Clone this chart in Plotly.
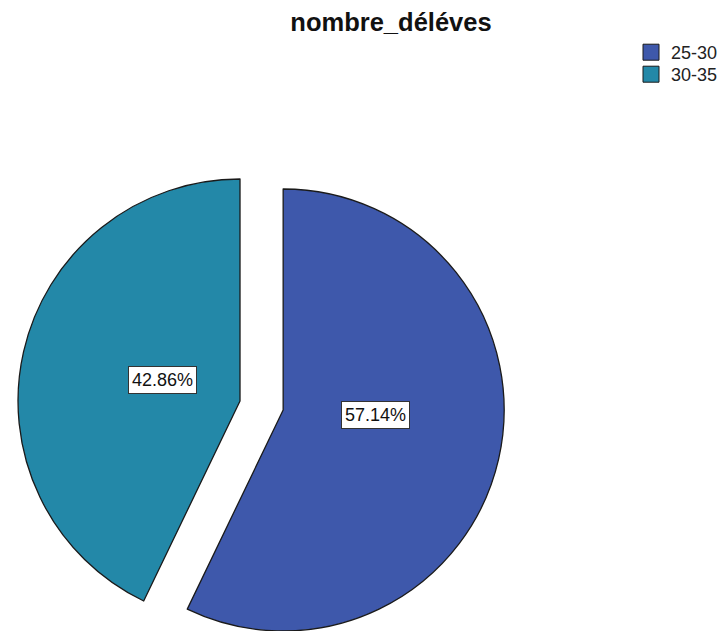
import math
import plotly.graph_objects as go

# --- data -------------------------------------------------------------
categories = ["25-30", "30-35"]
counts = [4, 3]
colors = ["#3E58AB", "#2388A8"]

# --- geometry (px) ----------------------------------------------------
W, H = 723, 631
R = 222                 # pie radius
BASE = (266, 406)       # common pie centre before the slices are exploded
EXPLODE = 22.5          # radial offset applied to every slice
LABEL_PX = [(382, 415), (130, 380)]   # anchor of each percentage box
FONT = "Liberation Sans, Arial, sans-serif"
EDGE = "#1a1a1a"

total = sum(counts)
shares = [c / total for c in counts]
pct_text = [f"{100 * s:.2f}%" for s in shares]

fig = go.Figure()

# one pie per slice so each slice can be pushed out along its own mid-angle
start = 0.0
for i, s in enumerate(shares):
    mid = 2 * math.pi * (start + s / 2)      # clockwise from 12 o'clock
    start += s
    cx = BASE[0] + EXPLODE * math.sin(mid)
    cy = BASE[1] - EXPLODE * math.cos(mid)
    xdom = [max(0.0, (cx - R - 20) / W), min(1.0, (cx + R + 20) / W)]
    ydom = [max(0.0, (H - (cy + R)) / H), min(1.0, (H - (cy - R)) / H)]
    slice_colors = [c if j == i else "rgba(0,0,0,0)" for j, c in enumerate(colors)]
    line_w = [1.3 if j == i else 0 for j in range(len(categories))]
    fig.add_trace(go.Pie(
        labels=categories, values=counts, sort=False,
        direction="clockwise", rotation=0,
        marker=dict(colors=slice_colors, line=dict(color=EDGE, width=line_w)),
        textinfo="none", hoverinfo="label+percent",
        showlegend=False, domain=dict(x=xdom, y=ydom),
    ))

    lx, ly = LABEL_PX[i]
    fig.add_annotation(
        x=lx / W, y=1 - ly / H, xref="paper", yref="paper",
        text=pct_text[i], showarrow=False,
        bgcolor="white", bordercolor="#333333", borderwidth=1, borderpad=3,
        font=dict(family=FONT, size=18, color="#111111"),
    )

# legend entries: square swatches, one legend box per category
legend_y_px = [52.5, 74.5]
for i, (cat, col) in enumerate(zip(categories, colors)):
    key = "legend" if i == 0 else f"legend{i + 1}"
    fig.add_trace(go.Scatter(
        x=[None], y=[None], mode="markers", name=cat,
        marker=dict(symbol="square", size=16, color=col, line=dict(color=EDGE, width=1)),
        legend=key, hoverinfo="skip",
    ))
    fig.update_layout({key: dict(
        x=642 / W, y=1 - legend_y_px[i] / H, xanchor="left", yanchor="middle",
        bgcolor="rgba(0,0,0,0)", borderwidth=0,
        font=dict(family=FONT, size=18, color="#222222"),
    )})

fig.update_xaxes(visible=False)
fig.update_yaxes(visible=False)

fig.update_layout(
    width=W, height=H,
    margin=dict(l=0, r=0, t=0, b=0),
    paper_bgcolor="white", plot_bgcolor="white",
    title=dict(
        text="nombre_déléves", x=391 / W, xanchor="center",
        y=1 - 22 / H, yanchor="middle",
        font=dict(family=FONT, size=25.5, color="#111111", weight="bold"),
    ),
)

fig.write_html("out.html")
